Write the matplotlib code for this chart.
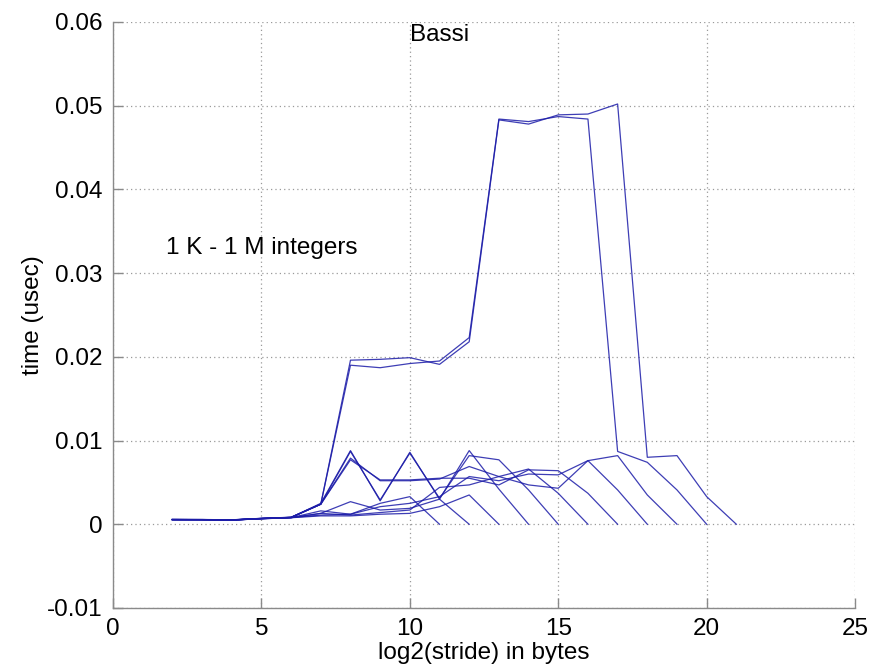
import numpy as np
import matplotlib
matplotlib.use("Agg")
import matplotlib.pyplot as plt

plt.rcParams['font.family'] = ['Liberation Sans', 'DejaVu Sans']

# time (usec) per access, for log2(stride) = 2, 3, 4, ... for each array size
size_labels = ["1K", "2K", "4K", "8K", "16K", "32K", "64K", "128K", "256K", "512K", "1M"]
t_1K = [0.00056, 0.00055, 0.00050, 0.00068, 0.00080, 0.0011, 0.0012, 0.0025, 0.0033, 0.0]
t_2K = [0.00056, 0.00056, 0.00052, 0.00068, 0.00080, 0.0013, 0.0027, 0.0017, 0.0019, 0.0030, 0.0]
t_4K = [0.00055, 0.00054, 0.00050, 0.00066, 0.00078, 0.0010, 0.0010, 0.0012, 0.0013, 0.0021, 0.0035, 0.0]
t_8K = [0.00056, 0.00055, 0.00050, 0.00068, 0.00082, 0.0025, 0.0088, 0.0028, 0.0086, 0.0030, 0.0088, 0.0042, 0.0]
t_16K = [0.00056, 0.00055, 0.00051, 0.00068, 0.00082, 0.0024, 0.0087, 0.0029, 0.0085, 0.0031, 0.0082, 0.0077,
         0.0041, 0.0]
t_32K = [0.00056, 0.00056, 0.00052, 0.00070, 0.00082, 0.0024, 0.0079, 0.0052, 0.0052, 0.0054, 0.0069, 0.0057,
         0.0066, 0.0037, 0.0]
t_64K = [0.00056, 0.00055, 0.00051, 0.00069, 0.00081, 0.0024, 0.0077, 0.0053, 0.0053, 0.0055, 0.0055, 0.0047,
         0.0065, 0.0064, 0.0037, 0.0]
t_128K = [0.00055, 0.00055, 0.00050, 0.00067, 0.00079, 0.0016, 0.0012, 0.0021, 0.0025, 0.0033, 0.0057, 0.0052,
          0.0060, 0.0059, 0.0076, 0.0041, 0.0]
t_256K = [0.00055, 0.00054, 0.00050, 0.00066, 0.00078, 0.0013, 0.0011, 0.0014, 0.0017, 0.0044, 0.0047, 0.0057,
          0.0047, 0.0043, 0.0076, 0.0082, 0.0035, 0.0]
t_512K = [0.00058, 0.00056, 0.00053, 0.00070, 0.00083, 0.0024, 0.0190, 0.0187, 0.0192, 0.0195, 0.0223, 0.0484,
          0.0481, 0.0487, 0.0484, 0.0087, 0.0074, 0.0041, 0.0]
t_1M = [0.00058, 0.00057, 0.00053, 0.00071, 0.00084, 0.0024, 0.0196, 0.0197, 0.0199, 0.0191, 0.0218, 0.0483,
        0.0478, 0.0489, 0.0490, 0.0502, 0.0080, 0.0082, 0.0033, 0.0]
series = [t_1K, t_2K, t_4K, t_8K, t_16K, t_32K, t_64K, t_128K, t_256K, t_512K, t_1M]
first_log2_stride = 2

x_ticks = [0, 5, 10, 15, 20, 25]
y_ticks = [-0.01, 0, 0.01, 0.02, 0.03, 0.04, 0.05, 0.06]
y_ticklabels = ["-0.01", "0", "0.01", "0.02", "0.03", "0.04", "0.05", "0.06"]

FS = 17.5

fig = plt.figure(figsize=(8.72, 6.69), dpi=100)
ax = fig.add_axes([0.1296, 0.0912, 0.851, 0.876])

for vals in series:
    xs = np.arange(first_log2_stride, first_log2_stride + len(vals))
    ax.plot(xs, vals, color='#1c1ca8', linewidth=0.9, alpha=0.85)

ax.set_xlim(0, 25)
ax.set_ylim(-0.01, 0.06)
ax.set_xticks(x_ticks)
ax.set_xticklabels([str(v) for v in x_ticks])
ax.set_yticks(y_ticks)
ax.set_yticklabels(y_ticklabels)

ax.grid(True, color='#9a9a9a', linestyle=(0, (1, 2.5)), linewidth=0.9)
ax.set_axisbelow(True)

for s in ['top', 'right']:
    ax.spines[s].set_visible(False)
for s in ['left', 'bottom']:
    ax.spines[s].set_color('#8a8a8a')
    ax.spines[s].set_linewidth(1.0)

ax.tick_params(direction='in', length=7, width=1.0, color='#8a8a8a',
               labelsize=FS, pad=7.5, labelcolor='black')

ax.set_xlabel('log2(stride) in bytes', fontsize=FS, labelpad=1)
ax.set_ylabel('time (usec)', fontsize=FS, labelpad=2)

ax.text(10, 0.0584, 'Bassi', fontsize=FS, ha='left', va='center')
ax.text(1.8, 0.033, '1 K - 1 M integers', fontsize=FS, ha='left', va='center')

fig.savefig('out.png', dpi=100, facecolor='white')
